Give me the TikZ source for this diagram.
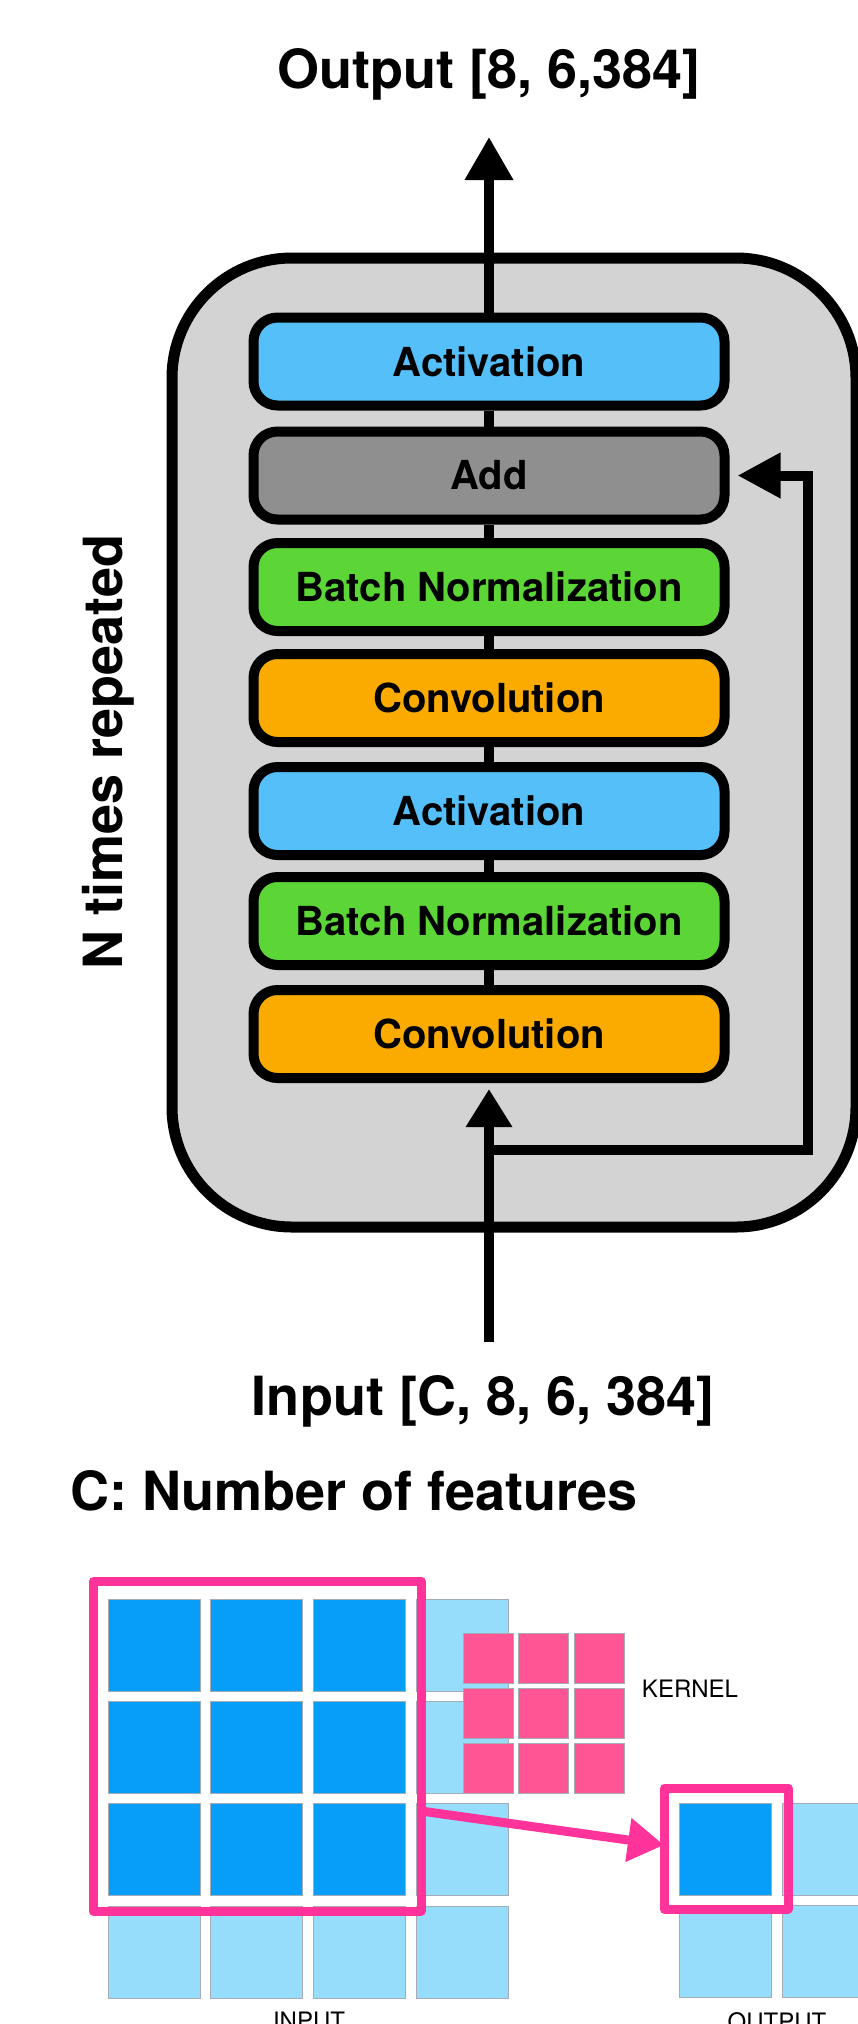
\documentclass[tikz,border=0pt]{standalone}
\usepackage{fontspec}
\setmainfont{TeX Gyre Heros}
\usetikzlibrary{arrows.meta}
\definecolor{actc}{HTML}{55BFF9}
\definecolor{addc}{HTML}{8F8F8F}
\definecolor{bnc}{HTML}{5CD637}
\definecolor{convc}{HTML}{FBAB00}
\definecolor{bgc}{HTML}{D3D3D3}
\definecolor{dblue}{HTML}{069EF9}
\definecolor{lblue}{HTML}{96DDFB}
\definecolor{kpink}{HTML}{FF5595}
\definecolor{hpink}{HTML}{FF3399}
\definecolor{sqedge}{HTML}{A4ADB6}
\tikzset{
  blk/.style={draw=black, line width=10pt, rounded corners=24pt, minimum width=471pt,
    minimum height=88pt, inner sep=0pt, font=\fontsize{40}{48}\selectfont\bfseries},
  conn/.style={line width=10pt, draw=black},
  bigarr/.style={-{Triangle[length=43pt,width=46pt]}},
  titletxt/.style={font=\fontsize{54}{64}\selectfont\bfseries, inner sep=0pt},
  lbl/.style={font=\fontsize{24}{28}\selectfont, inner sep=0pt},
  hand/.style={draw=hpink, line width=9pt, line join=round},
  sq/.style={draw=sqedge, line width=0.8pt}
}
\begin{document}
\begin{tikzpicture}[x=1pt,y=-1pt]
\clip (0,0) rectangle (858,2024);
% container
\node[draw=black, line width=11pt, fill=bgc, rounded corners=120pt, minimum width=684pt,
  minimum height=969pt, inner sep=0pt] (rep) at (514,742.5) {};
% blocks
\node[blk, fill=actc]  (a1)  at (489,361.5) {Activation};
\node[blk, fill=addc]  (add) at (489,475.5) {Add};
\node[blk, fill=bnc]   (b1)  at (489,587)   {Batch Normalization};
\node[blk, fill=convc] (c1)  at (489,698)   {Convolution};
\node[blk, fill=actc]  (a2)  at (489,811)   {Activation};
\node[blk, fill=bnc]   (b2)  at (489,921)   {Batch Normalization};
\node[blk, fill=convc] (c2)  at (489,1034)  {Convolution};
% connectors
\foreach \p/\q in {c2/b2, b2/a2, a2/c1, c1/b1, b1/add, add/a1}
  \draw[conn] (\p.north) -- (\q.south);
\coordinate (outp) at (489,137);
\coordinate (inp) at (489,1342);
\coordinate (skip) at (489,1150);
\coordinate (sk1) at (808,1150);
\coordinate (sk2) at (808,475.5);
\draw[conn, bigarr] (a1.north) -- (outp);
\draw[conn, -{Triangle[length=38pt,width=44pt]}, shorten >=6pt] (inp) -- (c2.south);
\draw[conn, -{Triangle[length=43pt,width=43pt]}, shorten >=8pt] (skip) -- (sk1) -- (sk2) -- (add.east);
% titles
\node[titletxt, anchor=base] (ot) at (489,88) {Output [8, 6,384]};
\node[titletxt, anchor=base] (it) at (483,1415) {Input [C, 8, 6, 384]};
\node[titletxt, anchor=base west] (ct) at (70,1510) {C: Number of features};
\node[titletxt, rotate=90, anchor=base] (nt) at (122,752) {N times repeated};
% input grid
\foreach \i in {0,...,3}{\foreach \j in {0,...,3}{
  \draw[sq, fill=lblue] (108+102.7*\i,1599+102.3*\j) rectangle ++(92,92);}}
\foreach \i in {0,...,2}{\foreach \j in {0,...,2}{
  \draw[sq, fill=dblue] (108+102.7*\i,1599+102.3*\j) rectangle ++(92,92);}}
% kernel
\foreach \i in {0,...,2}{\foreach \j in {0,...,2}{
  \draw[sq, fill=kpink] (463.5+55.2*\i,1633+55*\j) rectangle ++(50,50);}}
% output grid
\foreach \i in {0,1}{\foreach \j in {0,1}{
  \draw[sq, fill=lblue] (679.6+103*\i,1803.5+101.5*\j) rectangle ++(92,92);}}
\draw[sq, fill=dblue] (679.6,1803.5) rectangle ++(92,92);
% hand drawn highlights
\draw[hand] (93,1581) rectangle (421,1911);
\draw[hand] (664,1788) rectangle (788,1909);
\coordinate (pa) at (421,1811);
\coordinate (pb) at (664,1845);
\draw[hand, -{Triangle[length=36pt,width=42pt]}] (pa) -- (pb);
% labels
\node[lbl] (kl) at (690,1689) {KERNEL};
\node[lbl, anchor=north] (il) at (309,2012) {INPUT};
\node[lbl, anchor=north] (ol) at (777,2012) {OUTPUT};
\end{tikzpicture}
\end{document}
